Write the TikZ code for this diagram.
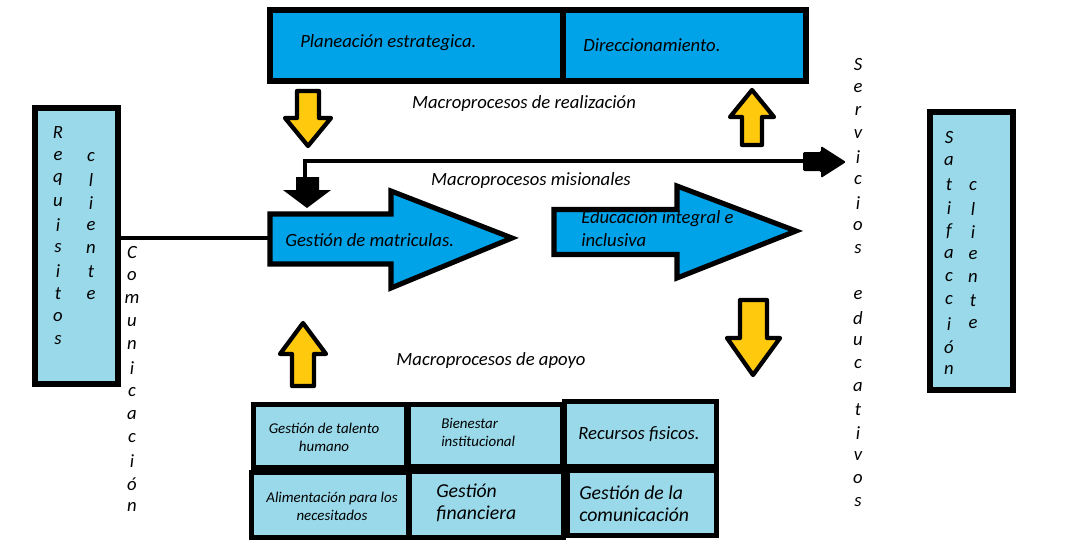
\documentclass[tikz,border=0pt]{standalone}
\usepackage{fontspec}
\setmainfont{Carlito}
\definecolor{pblue}{HTML}{00A2E8}
\definecolor{lblue}{HTML}{99D9EA}
\definecolor{pyell}{HTML}{FFC90E}
\begin{document}
\begin{tikzpicture}[x=0.75pt,y=-0.75pt,
  txt/.style={font=\fontsize{14}{16}\selectfont\itshape, inner sep=0pt},
  smalltxt/.style={font=\fontsize{11.2}{13.5}\selectfont\itshape, inner sep=0pt, align=center},
  bigtxt/.style={font=\fontsize{14.8}{16.5}\selectfont\itshape, inner sep=0pt, align=left},
  letter/.style={font=\fontsize{14}{14}\selectfont\itshape, inner sep=0pt},
  topbox/.style={draw=black, fill=pblue, line width=4pt},
  lbox/.style={draw=black, fill=lblue, line width=4pt},
  yarrow/.style={draw=black, fill=pyell, line width=3.2pt, line join=round},
  barrow/.style={draw=black, fill=pblue, line width=3.8pt, line join=miter},
  conn/.style={draw=black, line width=3pt}]
\useasboundingbox (0,0) rectangle (1088,554);

% top boxes
\draw[topbox] (270,10) rectangle (563,81);
\draw[topbox] (563,10) rectangle (806,81);
\node[txt, anchor=west] (plan) at (300,43) {Planeación estrategica.};
\node[txt, anchor=west] (dir) at (583,45) {Direccionamiento.};

\node[txt] (mreal) at (524,104) {Macroprocesos de realización};
\node[txt] (mmis) at (531,181) {Macroprocesos misionales};
\node[txt] (mapo) at (491,361) {Macroprocesos de apoyo};

% yellow arrows
\draw[yarrow] (297,91)--(319,91)--(319,118)--(331,118)--(308,146)--(285,118)--(297,118)--cycle;
\draw[yarrow] (742,145)--(762,145)--(762,117)--(774,117)--(752,90)--(730,117)--(742,117)--cycle;
\draw[yarrow] (292,386)--(314,386)--(314,354)--(326,354)--(303,323)--(280,354)--(292,354)--cycle;
\draw[yarrow] (740,300)--(767,300)--(767,338)--(780,338)--(753,375)--(727,338)--(740,338)--cycle;

% black connector with arrows
\coordinate (cA) at (305,177);
\coordinate (cB) at (305,161);
\coordinate (cC) at (805,161);
\draw[conn] (cA) -- (cB) -- (cC);
\fill[black] (296,177)--(319,177)--(319,190)--(331,190)--(307,208)--(283,190)--(296,190)--cycle;
\fill[black, rounded corners=1pt] (803,152)--(821,152)--(821,146)--(846,162)--(821,178)--(821,171)--(803,171)--cycle;

% blue arrows
\draw[barrow] (270,214)--(391,214)--(391,191)--(512,238)--(391,288)--(391,264)--(270,264)--cycle;
\node[txt, anchor=west] (gm) at (285,240) {Gestión de matriculas.};
\coordinate (gmw) at (268,238);
\draw[barrow] (554,209.5)--(677,209.5)--(677,186)--(796,231)--(677,278)--(677,254.5)--(554,254.5)--cycle;
\node[txt, anchor=west, align=left, font=\fontsize{14}{17.2}\selectfont\itshape] (edu) at (581,229) {Educación integral e\\inclusiva};

% left box
\node[lbox, minimum width=62.25pt, minimum height=207pt, inner sep=0pt] (req) at (76.5,246) {};
\coordinate (reqe) at (118,238);
\draw[conn] (reqe) -- (gmw);
\foreach \c [count=\i from 0] in {R,e,q,u,i,s,i,t,o,s}
  \node[letter] at (58,133+23*\i) {\c};
\foreach \c [count=\i from 0] in {c,l,i,e,n,t,e}
  \node[letter] at (91,157+23*\i) {\c};
\foreach \c [count=\i from 0] in {C,o,m,u,n,i,c,a,c,i,ó,n}
  \node[letter] at (132,253+23.1*\i) {\c};

% right side
\foreach \c [count=\i from 0] in {S,e,r,v,i,c,i,o,s}
  \node[letter] at (858,65+23*\i) {\c};
\foreach \c [count=\i from 0] in {e,d,u,c,a,t,i,v,o,s}
  \node[letter] at (858,295+23*\i) {\c};
\node[lbox, minimum width=62.25pt, minimum height=208.5pt, inner sep=0pt] (sat) at (971.5,251) {};
\foreach \c [count=\i from 0] in {S,a,t,i,f,a,c,c,i,ó,n}
  \node[letter] at (949,138+23.2*\i) {\c};
\foreach \c [count=\i from 0] in {c,l,i,e,n,t,e}
  \node[letter] at (973,186+23*\i) {\c};

% bottom boxes
\draw[lbox] (253.5,404.5) rectangle (406.5,467.5);
\draw[lbox] (408.5,404.5) rectangle (562.5,466.5);
\draw[lbox] (564.5,401.5) rectangle (716.5,466.5);
\draw[lbox] (251.5,472.5) rectangle (408.5,537.5);
\draw[lbox] (409.5,471.5) rectangle (563.5,537.5);
\draw[lbox] (567.5,470.5) rectangle (716.5,535.5);
\node[smalltxt] (b1) at (324,437) {Gestión de talento\\humano};
\node[smalltxt, anchor=west, align=left] (b2) at (441,432) {Bienestar\\institucional};
\node[txt, anchor=west] (b3) at (578,434) {Recursos fisicos.};
\node[smalltxt] (b4) at (332,506) {Alimentación para los\\necesitados};
\node[bigtxt, anchor=west] (b5) at (436,503) {Gestión\\financiera};
\node[bigtxt, anchor=west] (b6) at (579,504) {Gestión de la\\comunicación};
\end{tikzpicture}
\end{document}
